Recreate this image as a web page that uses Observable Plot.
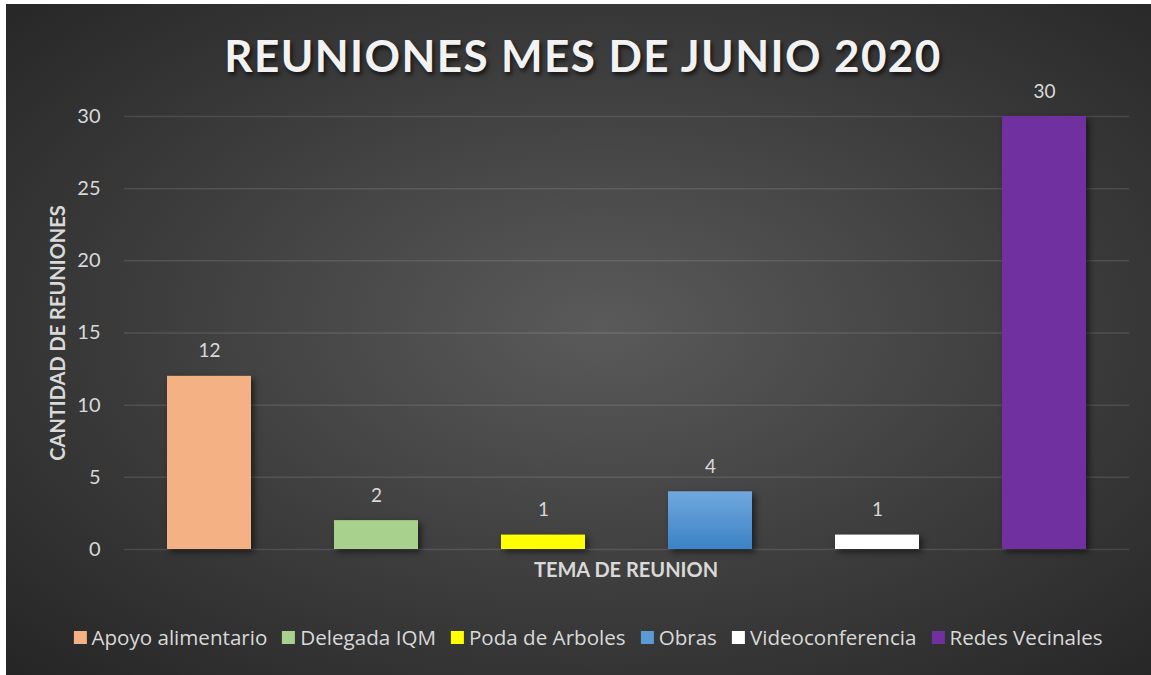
<!DOCTYPE html>
<html>
<head>
<meta charset="utf-8">
<script src="https://cdn.jsdelivr.net/npm/d3@7"></script>
<script src="https://cdn.jsdelivr.net/npm/@observablehq/plot@0.6"></script>
<style>
  html, body { margin: 0; padding: 0; background: #ffffff; }
  #page { position: relative; width: 1151px; height: 675px; overflow: hidden; background: #ffffff; font-family: Lato, "Open Sans", sans-serif; }
  #bg { position: absolute; left: 6px; top: 4px; width: 1145px; height: 671px;
        background: radial-gradient(ellipse farthest-corner at 52% 48%, #5a5a5a 0%, #3c3c3c 55%, #252525 100%); }
  #plot { position: absolute; left: 0; top: 0; }
  .abs { position: absolute; white-space: nowrap; transform: translate(-50%, -50%); }
  #title { left: 583px; top: 55px; font-size: 44px; font-weight: 700; letter-spacing: 1.4px; color: #f2f2f2;
           text-shadow: 2px 3px 4px rgba(0,0,0,0.65); }
  #ytitle { left: 57px; top: 333px; font-size: 20px; font-weight: 700; color: #d9d9d9; transform: translate(-50%, -50%) rotate(-90deg); }
  #xtitle { left: 626px; top: 569px; font-size: 20px; font-weight: 700; color: #d9d9d9; }
  #legend { left: 588px; top: 637px; display: flex; align-items: center; font-family: "Open Sans", Lato, sans-serif; font-size: 20.6px; color: #d9d9d9; }
  .item { display: flex; align-items: center; margin: 0 7.5px; }
  .sw { width: 13px; height: 13px; margin-right: 5px; }
</style>
</head>
<body>
<div id="page">
  <div id="bg"></div>
  <div id="plot"></div>
  <div id="title" class="abs">REUNIONES MES DE JUNIO 2020</div>
  <div id="ytitle" class="abs">CANTIDAD DE REUNIONES</div>
  <div id="xtitle" class="abs">TEMA DE REUNION</div>
  <div id="legend" class="abs"></div>
</div>
<script>
const categories = ["Apoyo alimentario", "Delegada IQM", "Poda de Arboles", "Obras", "Videoconferencia", "Redes Vecinales"];
const values = [12, 2, 1, 4, 1, 30];
const colors = ["#f4b183", "#a9d18e", "#ffff00", "url(#obrasGrad)", "#ffffff", "#7030a0"];
const legendColors = ["#f4b183", "#a9d18e", "#ffff00", "#5b9bd5", "#ffffff", "#7030a0"];
const yTicks = [0, 5, 10, 15, 20, 25, 30];

const data = categories.map((c, i) => ({tema: c, n: values[i]}));

const chart = Plot.plot({
  width: 1151,
  height: 675,
  marginTop: 116,
  marginBottom: 126,
  marginLeft: 124,
  marginRight: 22,
  style: {background: "transparent", color: "#d9d9d9", fontFamily: "Lato, 'Open Sans', sans-serif", fontSize: "20px", overflow: "visible"},
  x: {domain: categories, paddingInner: 0.5, paddingOuter: 0.25, axis: null},
  y: {domain: [0, 30], axis: null},
  color: {domain: categories, range: colors},
  marks: [
    Plot.gridY(yTicks, {stroke: "#ffffff", strokeOpacity: 0.11, strokeWidth: 1.5}),
    Plot.axisY(yTicks, {tickSize: 0, tickPadding: 24, label: null, fontSize: 20, fill: "#d9d9d9"}),
    Plot.barY(data, {x: "tema", y: "n", fill: "tema", className: "bars"}),
    Plot.text(data, {x: "tema", y: "n", text: d => String(d.n), dy: -25, fontSize: 19, fill: "#d9d9d9"})
  ]
});

const svg = d3.select(chart);
const defs = svg.insert("defs", ":first-child");
const g = defs.append("linearGradient").attr("id", "obrasGrad").attr("x1", 0).attr("y1", 0).attr("x2", 0).attr("y2", 1);
g.append("stop").attr("offset", "0%").attr("stop-color", "#70a8de");
g.append("stop").attr("offset", "100%").attr("stop-color", "#3c82c6");
svg.selectAll("g.bars").style("filter", "drop-shadow(3px 3px 3px rgba(0,0,0,0.55))");

document.getElementById("plot").appendChild(chart);

const legend = d3.select("#legend");
categories.forEach((c, i) => {
  const it = legend.append("div").attr("class", "item");
  it.append("div").attr("class", "sw").style("background", legendColors[i]);
  it.append("span").text(c);
});
</script>
</body>
</html>
